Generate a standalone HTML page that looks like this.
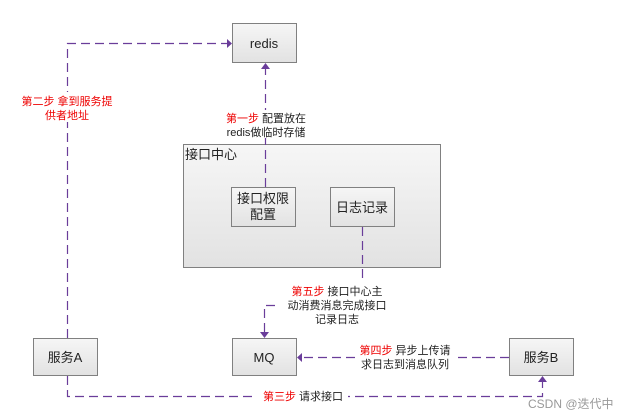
<!DOCTYPE html>
<html><head><meta charset="utf-8"><style>
body{margin:0;background:#fff;}
svg{display:block;font-family:"Liberation Sans","Noto Sans CJK SC",sans-serif;}
</style></head><body>
<svg width="640" height="420" viewBox="0 0 640 420" xmlns="http://www.w3.org/2000/svg">
<defs>
<linearGradient id="g" x1="0" y1="0" x2="0" y2="1"><stop offset="0" stop-color="#f6f6f6"/><stop offset="1" stop-color="#e2e2e2"/></linearGradient>
</defs>
<g fill="url(#g)" stroke="#808080" stroke-width="1">
<rect x="183.5" y="144.5" width="257" height="123"/>
<rect x="232.5" y="23.5" width="64" height="39"/>
<rect x="231.5" y="187.5" width="64" height="39"/>
<rect x="330.5" y="187.5" width="64" height="39"/>
<rect x="33.5" y="338.5" width="64" height="37"/>
<rect x="232.5" y="338.5" width="64" height="37"/>
<rect x="509.5" y="338.5" width="64" height="37"/>
</g>
<g fill="none" stroke="#6a3d9a" stroke-width="1.2" stroke-dasharray="9,5">
<path d="M67.5 338 V43.5 H228"/>
<path d="M265.5 187 V68"/>
<path d="M362.5 227 V280"/>
<path d="M275 305.5 H264.5 V332"/>
<path d="M509 357.5 H302"/>
<path d="M67.5 376 V396.5 H542.5 V381"/>
</g>
<g fill="#6a3d9a">
<polygon points="232,43.5 227,39 227,48"/>
<polygon points="265.5,63 261,69 270,69"/>
<polygon points="264.5,338 260,332 269,332"/>
<polygon points="297,357.5 302,353 302,362"/>
<polygon points="542.5,376 538,382 547,382"/>
</g>
<rect x="40" y="92" width="56" height="30" fill="#fff"/>
<rect x="221" y="110" width="90" height="28" fill="#fff"/>
<rect x="285" y="283" width="110" height="44" fill="#fff"/>
<rect x="355" y="342" width="100" height="28" fill="#fff"/>
<rect x="256" y="388" width="92" height="16" fill="#fff"/>
<g font-size="11" text-anchor="middle" fill="#222">
<text x="67" y="105" fill="#e00">第二步 拿到服务提</text>
<text x="67" y="119" fill="#e00">供者地址</text>
<text x="266" y="122"><tspan fill="#e00">第一步</tspan> 配置放在</text>
<text x="266" y="136">redis做临时存储</text>
<text x="337" y="295"><tspan fill="#e00">第五步</tspan> 接口中心主</text>
<text x="337" y="309">动消费消息完成接口</text>
<text x="337" y="323">记录日志</text>
<text x="405" y="354"><tspan fill="#e00">第四步</tspan> 异步上传请</text>
<text x="405" y="368">求日志到消息队列</text>
<text x="303" y="400"><tspan fill="#e00">第三步</tspan> 请求接口</text>
</g>
<g font-size="13" text-anchor="middle" fill="#222">
<text x="264" y="48">redis</text>
<text x="263" y="203">接口权限</text>
<text x="263" y="219">配置</text>
<text x="362" y="212">日志记录</text>
<text x="65" y="362">服务A</text>
<text x="264" y="362">MQ</text>
<text x="541" y="362">服务B</text>
</g>
<text x="185" y="159" font-size="13" fill="#222">接口中心</text>
<text x="528" y="408" font-size="12" fill="#999">CSDN @迭代中</text>
</svg>
</body></html>
